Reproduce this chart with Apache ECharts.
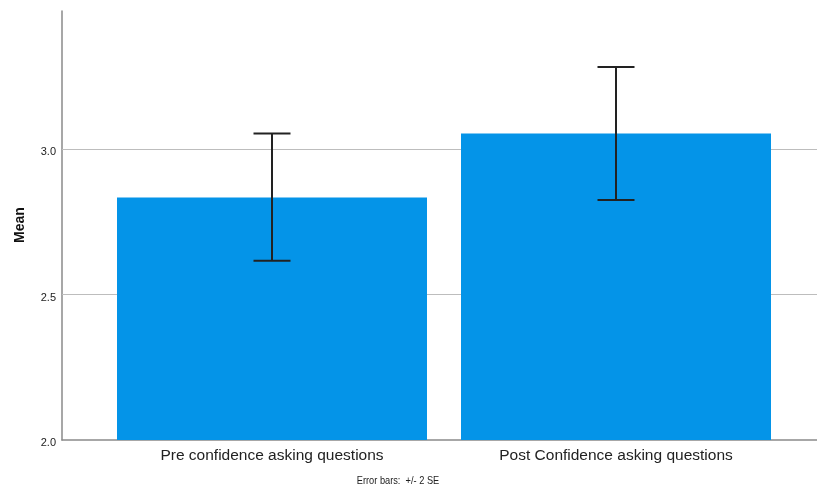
<!DOCTYPE html>
<html>
<head>
<meta charset="utf-8">
<script src="https://cdn.jsdelivr.net/npm/echarts@6/dist/echarts.min.js"></script>
<style>html,body{margin:0;padding:0;background:#fff;}#c{width:817px;height:492px;}</style>
</head>
<body>
<div id="c"></div>
<script>
const categories = ['Pre confidence asking questions', 'Post Confidence asking questions'];
const means = [2.833, 3.053];
const errLow = [2.616, 2.825];
const errHigh = [3.053, 3.282];
const gridValues = [2.5, 3.0];
const yMin = 2.0, yMax = 3.474, yStep = 0.5;

const chart = echarts.init(document.getElementById('c'));
const FONT = '"Liberation Sans", Arial, sans-serif';
chart.setOption({
  animation: false,
  backgroundColor: '#ffffff',
  grid: [
    {left: 62, right: 0, top: 11, bottom: 52},
    {left: 100, right: 29, top: 11, bottom: 52}
  ],
  xAxis: [
    {gridIndex: 0, type: 'category', data: categories,
     axisLine: {show: true, lineStyle: {color: '#8a8a8a', width: 1.5}},
     axisTick: {show: false}, axisLabel: {show: false}, splitLine: {show: false}},
    {gridIndex: 1, type: 'category', data: categories,
     axisLine: {show: false}, axisTick: {show: false},
     axisLabel: {show: true, color: '#222', fontFamily: FONT, fontSize: 15.5, margin: 8}}
  ],
  yAxis: [
    {gridIndex: 0, type: 'value', min: yMin, max: yMax, interval: yStep,
     axisLine: {show: true, lineStyle: {color: '#8a8a8a', width: 1.5}},
     axisTick: {show: false},
     axisLabel: {show: true, showMaxLabel: false, color: '#222', fontFamily: FONT, fontSize: 11, margin: 6,
                 formatter: v => '{a|' + v.toFixed(1) + '}',
                 rich: {a: {fontFamily: FONT, fontSize: 11, color: '#222', padding: [6, 0, 0, 0]}}},
     splitLine: {show: false}},
    {gridIndex: 1, type: 'value', min: yMin, max: yMax, interval: yStep, show: false,
     splitLine: {show: false}}
  ],
  graphic: [
    {type: 'text', x: 20, y: 225, rotation: Math.PI / 2,
     style: {text: 'Mean', font: 'bold 14px ' + FONT, fill: '#111', textAlign: 'center', textVerticalAlign: 'middle'}},
    {type: 'text', x: 398, y: 481, scaleX: 0.84,
     style: {text: 'Error bars:  +/- 2 SE', font: '11px ' + FONT,
             fill: '#222', textAlign: 'center', textVerticalAlign: 'middle'}}
  ],
  series: [
    {type: 'line', xAxisIndex: 0, yAxisIndex: 0, data: [], z: 1, silent: true,
     markLine: {silent: true, z: 1, symbol: ['none', 'none'], label: {show: false},
                lineStyle: {color: '#bdbdbd', width: 1.2, type: 'solid'},
                data: gridValues.map(v => ({yAxis: v}))}},
    {type: 'bar', xAxisIndex: 1, yAxisIndex: 1, data: means, barWidth: 310, z: 2,
     itemStyle: {color: '#0494e8'}},
    {type: 'custom', xAxisIndex: 1, yAxisIndex: 1, z: 3,
     data: categories.map((c, i) => [i, errLow[i], errHigh[i]]),
     renderItem: function (params, api) {
       const x = api.value(0);
       const lo = api.coord([x, api.value(1)]);
       const hi = api.coord([x, api.value(2)]);
       const hw = 18.5;
       const st = {stroke: '#222', lineWidth: 2};
       return {type: 'group', children: [
         {type: 'line', shape: {x1: lo[0], y1: lo[1], x2: hi[0], y2: hi[1]}, style: st},
         {type: 'line', shape: {x1: hi[0] - hw, y1: hi[1], x2: hi[0] + hw, y2: hi[1]}, style: st},
         {type: 'line', shape: {x1: lo[0] - hw, y1: lo[1], x2: lo[0] + hw, y2: lo[1]}, style: st}
       ]};
     }}
  ]
});
</script>
</body>
</html>
